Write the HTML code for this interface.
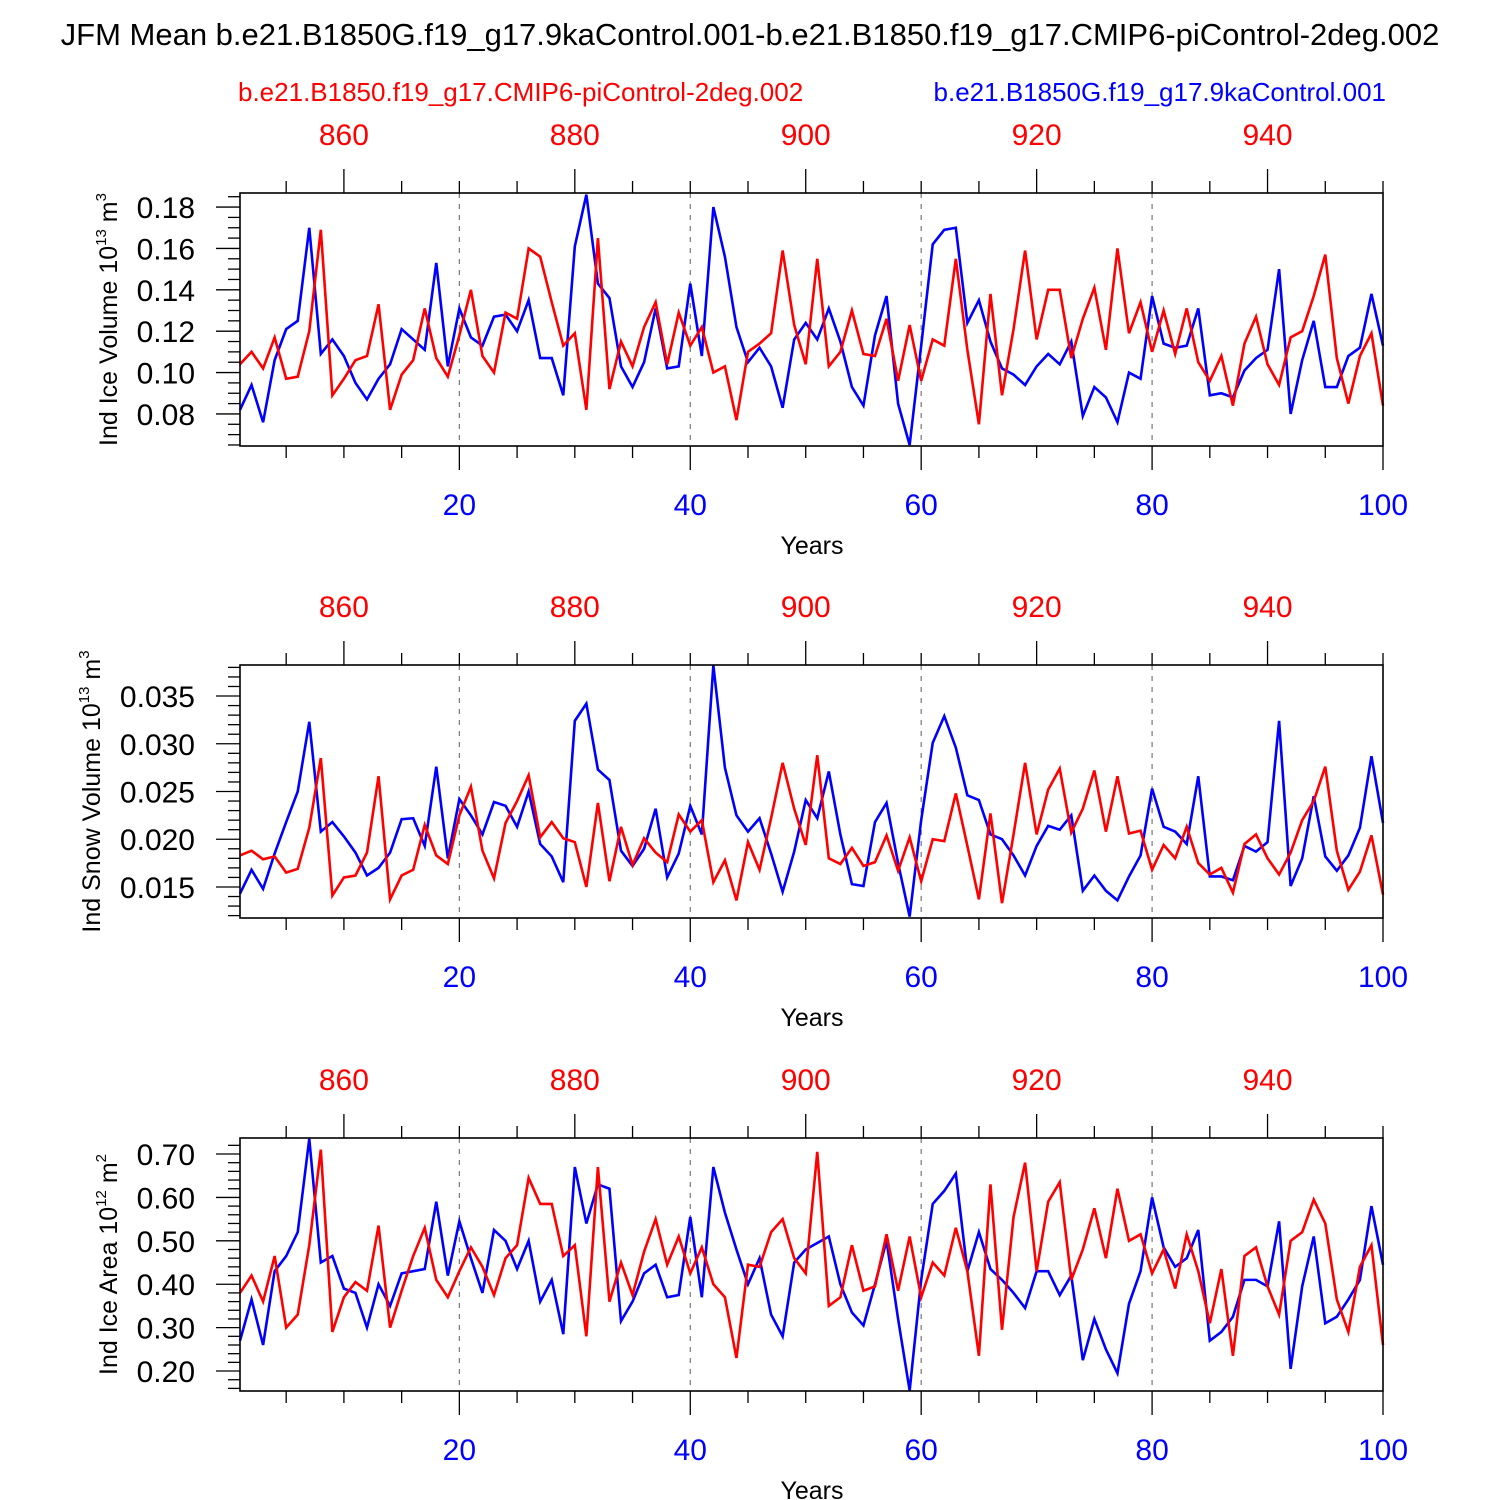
<!DOCTYPE html>
<html><head><meta charset="utf-8"><style>
html,body{margin:0;padding:0;background:#fff;}
svg{display:block;font-family:"Liberation Sans",sans-serif;}
</style></head><body>
<svg id="chart" width="1500" height="1500" viewBox="0 0 1500 1500" xmlns="http://www.w3.org/2000/svg">
<text x="750" y="45" font-size="31" text-anchor="middle">JFM Mean b.e21.B1850G.f19_g17.9kaControl.001-b.e21.B1850.f19_g17.CMIP6-piControl-2deg.002</text>
<text x="238" y="101" font-size="26" fill="#f00">b.e21.B1850.f19_g17.CMIP6-piControl-2deg.002</text>
<text x="1386" y="101" font-size="26" fill="#00f" text-anchor="end">b.e21.B1850G.f19_g17.9kaControl.001</text>
</svg>
<script>
const years = Array.from({length:100},(_,i)=>i+1);
const iceVolBlue=[.082,.094,.076,.106,.121,.125,.170,.109,.116,.108,.095,.087,.097,.104,.121,.116,.111,.153,.103,.131,.117,.113,.127,.128,.120,.135,.107,.107,.089,.161,.186,.143,.136,.103,.093,.105,.131,.102,.103,.143,.108,.180,.156,.122,.105,.112,.103,.083,.116,.124,.116,.131,.115,.093,.084,.118,.137,.085,.065,.113,.162,.169,.170,.124,.135,.115,.102,.099,.094,.103,.109,.104,.115,.079,.093,.088,.076,.100,.097,.137,.114,.112,.113,.131,.089,.090,.088,.101,.107,.111,.150,.080,.106,.125,.093,.093,.108,.112,.138,.113];
const iceVolRed=[.104,.110,.102,.117,.097,.098,.120,.169,.089,.097,.106,.108,.133,.082,.099,.106,.131,.107,.098,.118,.140,.108,.100,.129,.126,.160,.156,.134,.113,.119,.082,.165,.092,.115,.103,.122,.134,.104,.129,.113,.122,.100,.103,.077,.110,.114,.119,.159,.123,.104,.155,.103,.110,.130,.109,.108,.126,.096,.123,.096,.116,.113,.155,.111,.075,.138,.089,.121,.159,.116,.140,.140,.107,.126,.141,.111,.160,.119,.134,.110,.130,.109,.131,.105,.096,.108,.084,.114,.127,.104,.094,.117,.120,.137,.157,.107,.085,.108,.119,.084];
const snowVolBlue=[.0143,.0168,.0148,.0185,.0218,.0250,.0323,.0208,.0218,.0203,.0186,.0162,.0170,.0186,.0221,.0222,.0193,.0276,.0180,.0242,.0225,.0205,.0239,.0235,.0213,.0250,.0195,.0182,.0155,.0324,.0342,.0273,.0262,.0188,.0172,.0190,.0232,.0160,.0185,.0235,.0205,.0382,.0275,.0225,.0208,.0222,.0185,.0145,.0187,.0241,.0222,.0271,.0205,.0153,.0151,.0218,.0238,.0175,.0119,.0220,.0301,.0329,.0296,.0246,.0241,.0205,.0200,.0183,.0162,.0193,.0214,.0210,.0225,.0146,.0162,.0146,.0136,.0161,.0183,.0253,.0213,.0208,.0195,.0266,.0161,.0161,.0157,.0193,.0187,.0197,.0324,.0151,.0180,.0245,.0182,.0167,.0183,.0212,.0287,.0217];
const snowVolRed=[.0183,.0188,.0179,.0182,.0165,.0169,.0212,.0285,.0141,.0160,.0162,.0186,.0266,.0137,.0162,.0168,.0215,.0183,.0174,.0225,.0255,.0188,.0159,.0217,.0240,.0267,.0202,.0218,.0201,.0197,.0150,.0238,.0156,.0213,.0173,.0201,.0186,.0176,.0226,.0208,.0220,.0155,.0178,.0136,.0197,.0168,.0222,.0280,.0232,.0194,.0288,.0180,.0174,.0191,.0172,.0176,.0204,.0167,.0202,.0156,.0200,.0198,.0248,.0193,.0137,.0227,.0133,.0205,.0280,.0205,.0252,.0274,.0207,.0232,.0272,.0208,.0266,.0206,.0209,.0168,.0194,.0180,.0213,.0175,.0163,.0170,.0144,.0195,.0205,.0180,.0163,.0186,.0220,.0240,.0276,.0188,.0147,.0166,.0204,.0142];
const iceAreaBlue=[.27,.365,.26,.43,.465,.52,.735,.45,.465,.39,.38,.30,.40,.35,.425,.43,.435,.59,.42,.545,.46,.38,.525,.50,.435,.50,.36,.41,.285,.67,.54,.63,.62,.315,.36,.425,.445,.37,.375,.555,.37,.67,.565,.48,.40,.46,.33,.28,.45,.48,.495,.51,.40,.335,.305,.40,.50,.32,.155,.41,.585,.615,.655,.43,.52,.435,.41,.38,.345,.43,.43,.375,.42,.225,.32,.25,.195,.355,.43,.60,.485,.44,.46,.525,.27,.29,.325,.41,.41,.395,.545,.205,.395,.51,.31,.325,.365,.41,.58,.445];
const iceAreaRed=[.38,.42,.36,.465,.30,.33,.49,.71,.29,.37,.405,.385,.535,.30,.385,.465,.53,.41,.37,.43,.485,.44,.375,.46,.49,.645,.585,.585,.465,.49,.28,.67,.36,.45,.375,.475,.55,.445,.51,.425,.485,.40,.37,.23,.445,.44,.52,.55,.46,.425,.705,.35,.37,.49,.385,.395,.515,.385,.51,.37,.45,.42,.53,.43,.235,.63,.295,.555,.68,.43,.59,.635,.41,.48,.575,.46,.62,.50,.515,.425,.48,.39,.515,.43,.31,.435,.235,.465,.485,.395,.33,.50,.52,.595,.54,.365,.29,.44,.49,.26];
const bottomTicks=[20,40,60,80,100];
const topTicks=[860,880,900,920,940];
const yTicks1=["0.08","0.10","0.12","0.14","0.16","0.18"];
const yTicks2=["0.015","0.020","0.025","0.030","0.035"];
const yTicks3=["0.20","0.30","0.40","0.50","0.60","0.70"];

const NS="http://www.w3.org/2000/svg";
const svg=document.getElementById('chart');
function mk(tag,attrs,parent){const e=document.createElementNS(NS,tag);for(const k in attrs)e.setAttribute(k,attrs[k]);(parent||svg).appendChild(e);return e;}
const X0=240,X1=1383,H=253;
function xs(yr){return X0+(yr-1)*(X1-X0)/99;}

function panel(top,ymin,ymax,minorStep,yLabels,blue,red,titleParts,titleX,nameKey){
  const g=mk('g',{});
  
  
  const ys=v=>top+H-(v-ymin)/(ymax-ymin)*H;
  [20,40,60,80].forEach(t=>{const l=mk('line',{x1:xs(t),x2:xs(t),y1:top,y2:top+H,stroke:'#777','stroke-width':1.2,'stroke-dasharray':'5,6'},g);
    
    });
  const start=Math.ceil(ymin/minorStep-1e-6);
  for(let k=start;k*minorStep<=ymax+1e-9;k++){const v=k*minorStep;const y=ys(v);
    const major=yLabels.some(s=>Math.abs(parseFloat(s)-v)<minorStep/4);
    mk('line',{x1:major?216:228,x2:X0,y1:y,y2:y,stroke:'#000','stroke-width':1.3},g);}
  yLabels.forEach(s=>{const t=mk('text',{x:195,y:ys(parseFloat(s))+11,'font-size':30,'text-anchor':'end'},g);t.textContent=s;
    
    });
  for(let yr=5;yr<=100;yr+=5){const major=yr%20===0;mk('line',{x1:xs(yr),x2:xs(yr),y1:top+H,y2:top+H+(major?24:12),stroke:'#000','stroke-width':1.3},g);}
  bottomTicks.forEach(v=>{const t=mk('text',{x:xs(v),y:top+H+69,'font-size':30,fill:'#00f','text-anchor':'middle'},g);t.textContent=v;
    
    });
  for(let ry=855;ry<=950;ry+=5){const major=ry%20===0;mk('line',{x1:xs(ry-850),x2:xs(ry-850),y1:top,y2:top-(major?24:12),stroke:'#000','stroke-width':1.3},g);}
  topTicks.forEach(v=>{const t=mk('text',{x:xs(v-850),y:top-48,'font-size':30,fill:'#f00','text-anchor':'middle'},g);t.textContent=v;
    
    });
  const xt=mk('text',{x:812,y:top+H+108,'font-size':25,'text-anchor':'middle'},g);xt.textContent='Years';
  
  
  const pb=mk('polyline',{points:years.map((yr,i)=>xs(yr)+','+ys(blue[i])).join(' '),fill:'none',stroke:'#00f','stroke-width':2.6},g);
  
  
  const pr=mk('polyline',{points:years.map((yr,i)=>xs(yr)+','+ys(red[i])).join(' '),fill:'none',stroke:'#f00','stroke-width':2.6},g);
  
  
  const f=mk('rect',{x:X0,y:top,width:X1-X0,height:H,fill:'none',stroke:'#000','stroke-width':1.6},g);
  
  
  const yt=mk('text',{transform:`translate(${titleX},${top+H/2}) rotate(-90)`,'font-size':25,'text-anchor':'middle'},g);
  
  
  const a=mk('tspan',{},yt);a.textContent=titleParts[0];
  const b=mk('tspan',{'font-size':15,dy:-11},yt);b.textContent=titleParts[1];
  const c=mk('tspan',{dy:11},yt);c.textContent=titleParts[2];
  const d=mk('tspan',{'font-size':15,dy:-11},yt);d.textContent=titleParts[3];
}
panel(193,0.0645,0.1868,0.005,yTicks1,iceVolBlue,iceVolRed,['Ind Ice Volume 10','13',' m','3'],117,'ice-volume');
panel(665,0.01175,0.03825,0.001,yTicks2,snowVolBlue,snowVolRed,['Ind Snow Volume 10','13',' m','3'],100,'snow-volume');
panel(1138,0.154,0.7369,0.02,yTicks3,iceAreaBlue,iceAreaRed,['Ind Ice Area 10','12',' m','2'],117,'ice-area');
</script>
</body></html>
